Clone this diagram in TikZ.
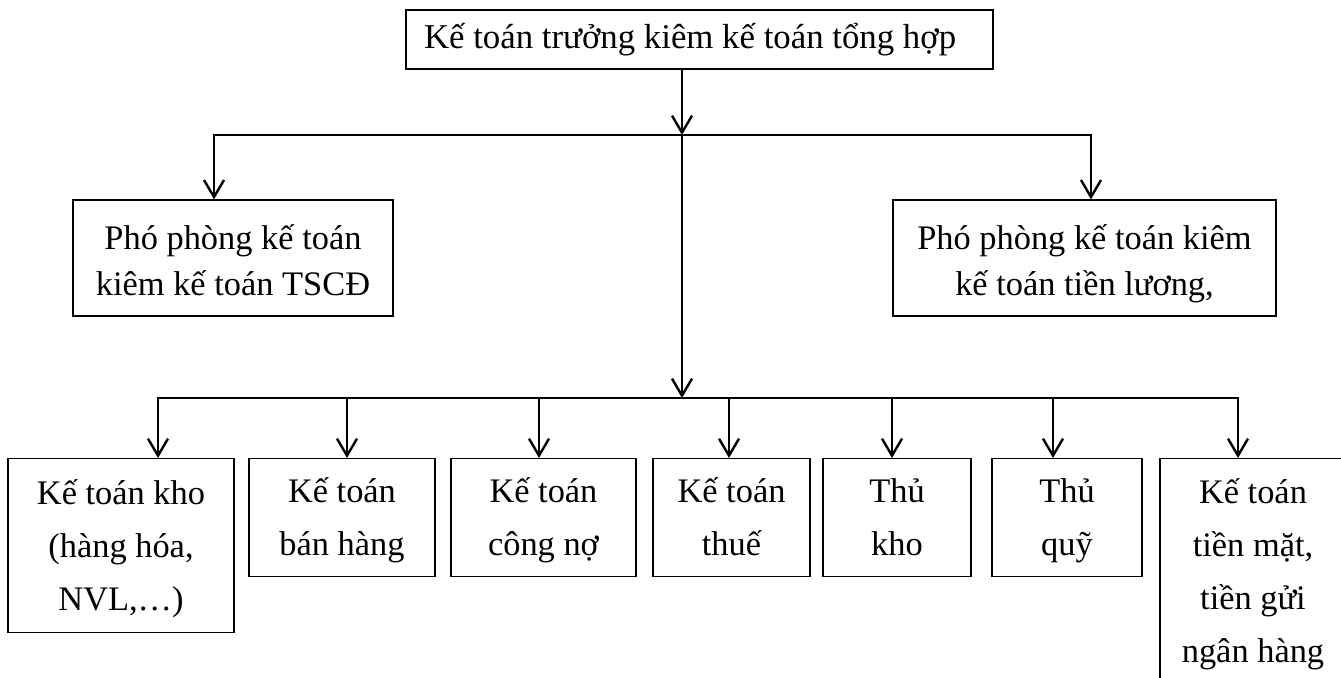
\documentclass[tikz,border=0pt]{standalone}
\usepackage{fontspec}
\setmainfont{Liberation Serif}
\usepackage{tikz}
\usetikzlibrary{positioning, arrows.meta}

\begin{document}
\begin{tikzpicture}[
    x=0.5pt, y=-0.5pt,
    headbox/.style={
      draw, line width=0.6pt, align=flush left, inner xsep=9pt, inner ysep=0pt,
      text width=275.5pt, minimum height=29.5pt,
      font=\fontsize{17.4}{26.2}\selectfont
    },
    deputybox/.style={
      draw, line width=0.6pt, align=flush center, inner sep=0pt,
      text width=#1, minimum height=58pt,
      font=\fontsize{17.2}{23}\selectfont,
      execute at begin node={\rule{0pt}{20.9pt}}, execute at end node=\strut
    },
    staffbox/.style={
      draw, line width=0.6pt, align=flush center, inner sep=0pt, anchor=north,
      text width=#1, minimum height=59pt,
      font=\fontsize{17.2}{26.5}\selectfont,
      execute at begin node={\rule{0pt}{19.5pt}}, execute at end node=\strut
    },
    arr/.style={-{Straight Barb[length=8.5pt, width=10pt]}, line width=1.2pt},
  ]
    \useasboundingbox (0,0) rectangle (1341,677);
    \clip (0,0) rectangle (1341,677);

    \node[headbox] (head) at (699.5,39.5) {Kế toán trưởng kiêm kế toán tổng hợp};
    \node[deputybox=160pt] (dleft) at (233,258) {%
      Phó phòng kế toán\\kiêm kế toán TSCĐ};
    \node[deputybox=191.5pt] (dright) at (1084.5,258) {%
      Phó phòng kế toán kiêm\\kế toán tiền lương,};

    \node[staffbox=113pt, minimum height=87pt] (kho) at (121,458) {%
      Kế toán kho\\(hàng hóa,\\NVL,…)};
    \node[staffbox=93pt] (banhang) at (342,458) {Kế toán\\bán hàng};
    \node[staffbox=92.5pt] (congno) at (543.5,458) {Kế toán\\công nợ};
    \node[staffbox=78.5pt] (thue) at (731.5,458) {Kế toán\\thuế};
    \node[staffbox=74pt] (thukho) at (897,458) {Thủ\\kho};
    \node[staffbox=75pt] (thuquy) at (1067,458) {Thủ\\quỹ};
    \node[staffbox=93pt, minimum height=113pt] (tienmat) at (1253,458) {%
      Kế toán\\tiền mặt,\\tiền gửi\\ngân hàng};

    \coordinate (split1) at (682,135);
    \coordinate (split2) at (682,398);

    \draw[arr] (head.south -| split1) -- (split1);
    \draw[arr] (split1) -| ([xshift=-9.5pt]dleft.north);
    \draw[arr] (split1) -| ([xshift=3.25pt]dright.north);
    \draw[arr] (split1) -- (split2);
    \foreach \n/\dx in {kho/18.5, banhang/2.5, congno/-2.25, thue/-1.25,
                        thukho/-2.5, thuquy/-7, tienmat/-7.5}
      \draw[arr] (split2) -| ([xshift=\dx pt]\n.north);
  \end{tikzpicture}
\end{document}
